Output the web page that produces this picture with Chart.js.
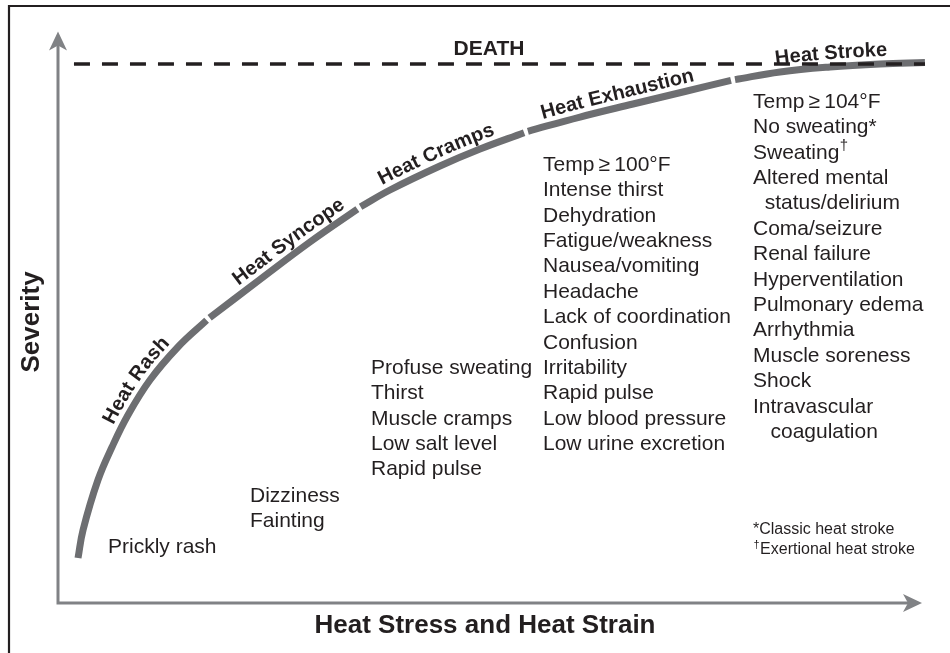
<!DOCTYPE html>
<html>
<head>
<meta charset="utf-8">
<script src="https://cdn.jsdelivr.net/npm/chart.js@4.4.1/dist/chart.umd.min.js"></script>
<style>
  body { margin: 0; background: #fff; }
  #wrap { position: relative; width: 950px; height: 653px; }
</style>
</head>
<body>
<div id="wrap"><canvas id="grafico"></canvas></div>
<script>
// stages along the curve (x = heat stress, y = severity, both 0-100)
const stages = ['Heat Rash', 'Heat Syncope', 'Heat Cramps', 'Heat Exhaustion', 'Heat Stroke'];

const stressPoints = [
  [2.32, 2.90, 4.63, 6.26, 8.11, 10.66, 13.90, 17.22],
  [17.57, 23.17, 29.20, 34.69],
  [35.06, 38.47, 44.26, 48.90, 54.01],
  [54.45, 60.49, 66.63, 72.65, 77.98],
  [78.45, 83.66, 89.46, 95.25, 100.46]
];
const severityPoints = [
  [7.88, 12.78, 21.54, 27.32, 32.92, 39.05, 44.83, 49.51],
  [49.95, 56.39, 63.22, 68.97],
  [69.39, 72.33, 76.53, 79.51, 82.36],
  [82.61, 85.11, 87.39, 89.58, 91.52],
  [91.66, 93.00, 93.87, 94.40, 94.66]
];

const deathStress = [1.85, 100.46];
const deathSeverity = [94.4, 94.4];

const rashSymptoms = ['Prickly rash'];
const syncopeSymptoms = ['Dizziness', 'Fainting'];
const crampsSymptoms = ['Profuse sweating', 'Thirst', 'Muscle cramps', 'Low salt level', 'Rapid pulse'];
const exhaustionSymptoms = ['Temp\u2009\u2265\u2009100°F', 'Intense thirst', 'Dehydration', 'Fatigue/weakness',
  'Nausea/vomiting', 'Headache', 'Lack of coordination', 'Confusion', 'Irritability', 'Rapid pulse',
  'Low blood pressure', 'Low urine excretion'];
const strokeSymptoms = ['Temp\u2009\u2265\u2009104°F', 'No sweating*', 'Sweating^\u2020', 'Altered mental',
  '  status/delirium', 'Coma/seizure', 'Renal failure', 'Hyperventilation', 'Pulmonary edema', 'Arrhythmia',
  'Muscle soreness', 'Shock', 'Intravascular', '   coagulation'];
const footnotes = ['*Classic heat stroke', '^\u2020^Exertional heat stroke'];

const INK = '#231f20';
const CURVE = '#6d6e71';
const AXIS = '#808285';
const FONT = '"Liberation Sans", Arial, Helvetica, sans-serif';

function toPoints(xs, ys) {
  return xs.map((x, i) => ({ x: x, y: ys[i] }));
}

const datasets = [{
  data: toPoints(deathStress, deathSeverity),
  borderColor: INK,
  borderWidth: 3.5,
  borderDash: [16, 12],
  borderCapStyle: 'butt',
  tension: 0
}];
stages.forEach((s, i) => {
  datasets.push({
    label: s,
    data: toPoints(stressPoints[i], severityPoints[i]),
    borderColor: CURVE,
    borderWidth: 7,
    borderCapStyle: 'butt',
    tension: 0.4
  });
});

// smooth polyline through the element pixels (for the labels on the curve)
function smoothPath(pts) {
  const out = [];
  for (let i = 0; i < pts.length - 1; i++) {
    const p0 = pts[Math.max(i - 1, 0)], p1 = pts[i], p2 = pts[i + 1], p3 = pts[Math.min(i + 2, pts.length - 1)];
    for (let k = 0; k < 12; k++) {
      const t = k / 12, t2 = t * t, t3 = t2 * t;
      const f = (a, b, c, d) => 0.5 * (2 * b + (-a + c) * t + (2 * a - 5 * b + 4 * c - d) * t2 + (-a + 3 * b - 3 * c + d) * t3);
      out.push({ x: f(p0.x, p1.x, p2.x, p3.x), y: f(p0.y, p1.y, p2.y, p3.y) });
    }
  }
  out.push(pts[pts.length - 1]);
  const len = [0];
  for (let i = 1; i < out.length; i++) {
    len.push(len[i - 1] + Math.hypot(out[i].x - out[i - 1].x, out[i].y - out[i - 1].y));
  }
  return { pts: out, len: len };
}

function pointAt(path, s) {
  const { pts, len } = path;
  if (s <= 0) {
    const d = Math.hypot(pts[1].x - pts[0].x, pts[1].y - pts[0].y);
    return { x: pts[0].x + (pts[1].x - pts[0].x) * s / d, y: pts[0].y + (pts[1].y - pts[0].y) * s / d };
  }
  for (let i = 1; i < pts.length; i++) {
    if (len[i] >= s) {
      const t = (s - len[i - 1]) / (len[i] - len[i - 1]);
      return { x: pts[i - 1].x + (pts[i].x - pts[i - 1].x) * t, y: pts[i - 1].y + (pts[i].y - pts[i - 1].y) * t };
    }
  }
  const n = pts.length - 1;
  const d = Math.hypot(pts[n].x - pts[n - 1].x, pts[n].y - pts[n - 1].y);
  const extra = s - len[n];
  return { x: pts[n].x + (pts[n].x - pts[n - 1].x) * extra / d, y: pts[n].y + (pts[n].y - pts[n - 1].y) * extra / d };
}

function lengthAtX(path, px) {
  const { pts, len } = path;
  for (let i = 1; i < pts.length; i++) {
    if (pts[i].x >= px) {
      const t = (px - pts[i - 1].x) / (pts[i].x - pts[i - 1].x);
      return len[i - 1] + (len[i] - len[i - 1]) * t;
    }
  }
  return len[len.length - 1];
}

function arrowHead(ctx, tx, ty, dx, dy) {
  const L = 19, H = 9, N = 5;
  const px = -dy, py = dx;
  ctx.beginPath();
  ctx.moveTo(tx, ty);
  ctx.lineTo(tx - dx * L + px * H, ty - dy * L + py * H);
  ctx.lineTo(tx - dx * (L - N), ty - dy * (L - N));
  ctx.lineTo(tx - dx * L - px * H, ty - dy * L - py * H);
  ctx.closePath();
  ctx.fill();
}

// text with optional superscript: "before^sup^after"
function drawLine(ctx, x, y, text, size) {
  const parts = text.split('^');
  ctx.font = size + 'px ' + FONT;
  ctx.fillText(parts[0], x, y);
  if (parts.length > 1) {
    const w = ctx.measureText(parts[0]).width;
    ctx.font = Math.round(size * 0.7) + 'px ' + FONT;
    ctx.fillText(parts[1], x + w + 0.5, y - size * 0.32);
    const w2 = ctx.measureText(parts[1]).width;
    ctx.font = size + 'px ' + FONT;
    if (parts[2]) ctx.fillText(parts[2], x + w + w2 + 1, y);
  }
}

const decorPlugin = {
  id: 'decor',
  beforeDatasetsDraw(chart) {
    const ctx = chart.ctx;
    const a = chart.chartArea;
    ctx.save();
    // frame
    ctx.strokeStyle = INK;
    ctx.lineWidth = 2.2;
    ctx.beginPath();
    ctx.moveTo(9, chart.height);
    ctx.lineTo(9, 6);
    ctx.lineTo(chart.width, 6);
    ctx.stroke();
    // axes with arrows
    ctx.strokeStyle = AXIS;
    ctx.fillStyle = AXIS;
    ctx.lineWidth = 3;
    ctx.beginPath();
    ctx.moveTo(a.left, a.top + 12);
    ctx.lineTo(a.left, a.bottom);
    ctx.lineTo(a.right - 12, a.bottom);
    ctx.stroke();
    arrowHead(ctx, a.left, a.top - 0.5, 0, -1);
    arrowHead(ctx, a.right + 1, a.bottom, 1, 0);
    ctx.restore();
  },
  afterDatasetsDraw(chart) {
    const ctx = chart.ctx;
    const xs = chart.scales.x, ys = chart.scales.y;
    ctx.save();
    ctx.fillStyle = INK;

    // axis titles
    ctx.font = 'bold 26px ' + FONT;
    ctx.textAlign = 'center';
    ctx.textBaseline = 'middle';
    ctx.fillText('Heat Stress and Heat Strain', 485, 626);
    ctx.save();
    ctx.translate(32, 322);
    ctx.rotate(-Math.PI / 2);
    ctx.fillText('Severity', 0, 0);
    ctx.restore();

    // DEATH
    ctx.font = 'bold 21px ' + FONT;
    ctx.fillText('DEATH', 489, 49);

    // stage names along the curve
    const labelAt = [10.1, 27.6, 44.4, 65.2, 89.7];
    ctx.font = 'bold 20px ' + FONT;
    ctx.textBaseline = 'alphabetic';
    stages.forEach((name, i) => {
      const meta = chart.getDatasetMeta(i + 1);
      const path = smoothPath(meta.data.map(p => ({ x: p.x, y: p.y })));
      const total = ctx.measureText(name).width;
      let s = lengthAtX(path, xs.getPixelForValue(labelAt[i])) - total / 2;
      for (const ch of name) {
        const cw = ctx.measureText(ch).width;
        const sc = s + cw / 2;
        const p = pointAt(path, sc);
        const p1 = pointAt(path, sc - 8), p2 = pointAt(path, sc + 8);
        const ang = Math.atan2(p2.y - p1.y, p2.x - p1.x);
        const nx = Math.sin(ang), ny = -Math.cos(ang);
        ctx.save();
        ctx.translate(p.x + nx * 8, p.y + ny * 8);
        ctx.rotate(ang);
        ctx.fillText(ch, 0, 0);
        ctx.restore();
        s += cw;
      }
    });

    // symptom lists
    const lists = [
      [rashSymptoms, 5.79, 9.81],
      [syncopeSymptoms, 22.25, 18.74],
      [crampsSymptoms, 36.27, 41.16],
      [exhaustionSymptoms, 56.20, 76.71],
      [strokeSymptoms, 80.53, 87.74]
    ];
    ctx.textAlign = 'left';
    ctx.textBaseline = 'middle';
    lists.forEach(([lines, x, y]) => {
      const px = xs.getPixelForValue(x), py = ys.getPixelForValue(y);
      lines.forEach((t, k) => drawLine(ctx, px, py + k * 25.4, t, 21));
    });
    const fx = xs.getPixelForValue(80.53), fy = ys.getPixelForValue(12.78);
    footnotes.forEach((t, k) => drawLine(ctx, fx, fy + k * 20, t, 16));
    ctx.restore();
  }
};

new Chart(document.getElementById('grafico'), {
  type: 'scatter',
  data: { datasets: datasets },
  options: {
    responsive: true,
    maintainAspectRatio: false,
    animation: false,
    devicePixelRatio: 1,
    layout: { padding: { left: 58, right: 29, top: 32, bottom: 50 } },
    showLine: true,
    elements: { point: { radius: 0, hoverRadius: 0 } },
    datasets: { scatter: { clip: false } },
    scales: {
      x: { type: 'linear', min: 0, max: 100, display: false },
      y: { type: 'linear', min: 0, max: 100, display: false }
    },
    plugins: {
      legend: { display: false },
      tooltip: { enabled: false }
    }
  },
  plugins: [decorPlugin]
});
</script>
</body>
</html>
